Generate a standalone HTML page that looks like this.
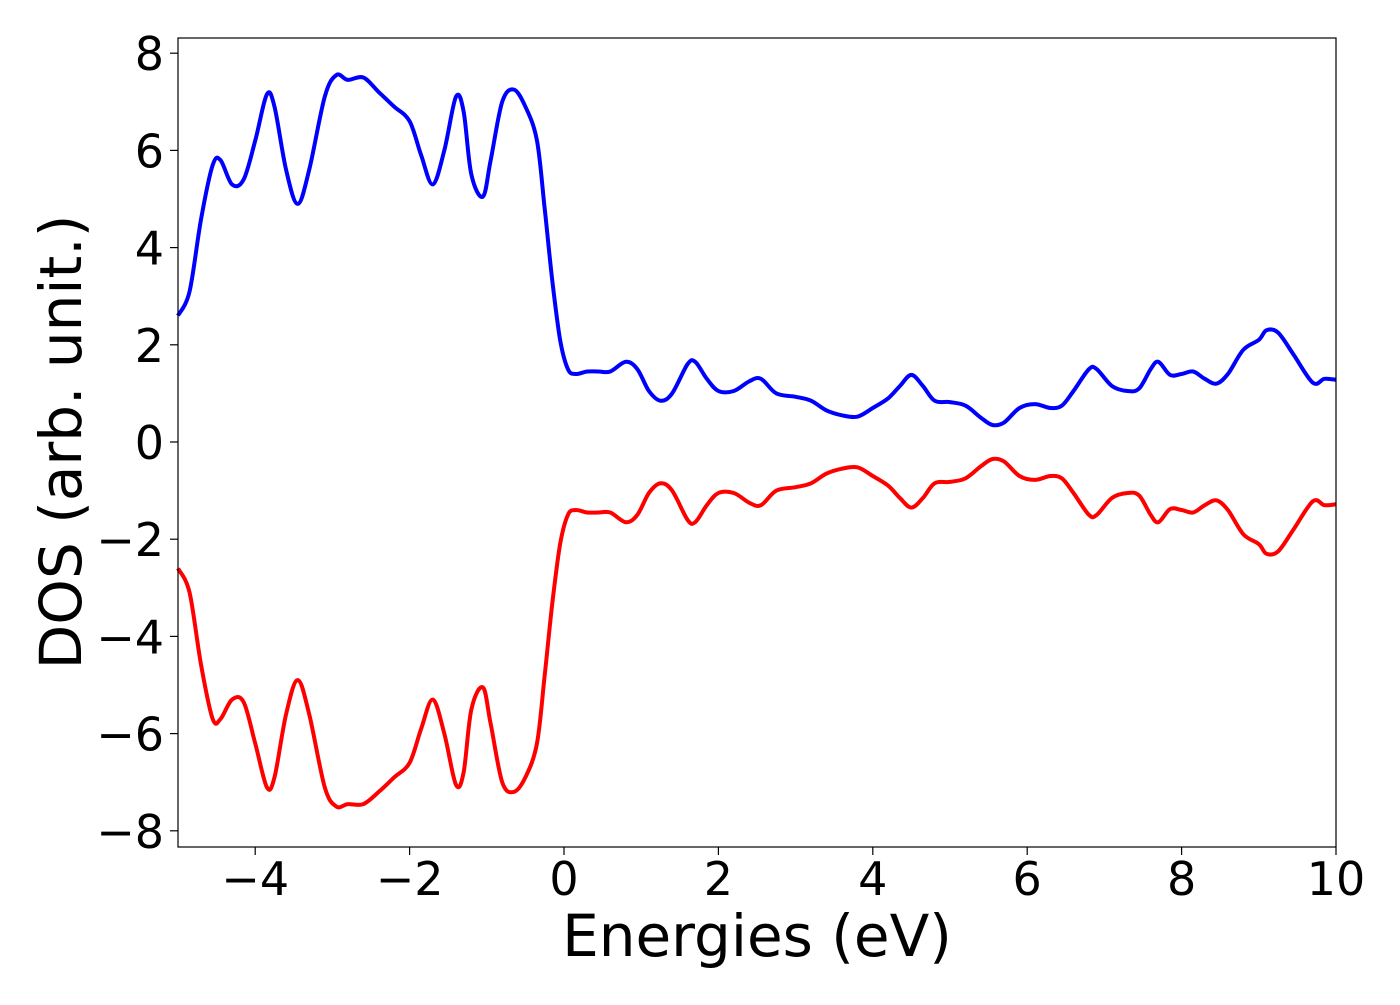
<!DOCTYPE html>
<html><head><meta charset="utf-8"><style>
body{margin:0;background:#fff;}
svg text{font-family:"DejaVu Sans","Liberation Sans",sans-serif;fill:#000;}
</style></head><body>
<svg id="chart" width="1400" height="1000" viewBox="0 0 1400 1000">
<rect x="0" y="0" width="1400" height="1000" fill="#fff"/>
<g id="series"></g>
<rect x="178" y="38" width="1158" height="809" fill="none" stroke="#000" stroke-width="1.2"/>
<g id="xticks"></g><g id="yticks"></g>
<text x="757" y="956" font-size="58" text-anchor="middle">Energies (eV)</text>
<text transform="translate(81,442) rotate(-90)" font-size="58" text-anchor="middle">DOS (arb. unit.)</text>
</svg>
<script>
const energies=[-5,-4.85,-4.7,-4.55,-4.45,-4.3,-4.15,-4.0,-3.85,-3.75,-3.6,-3.45,-3.3,-3.1,-2.95,-2.8,-2.6,-2.4,-2.2,-2.0,-1.85,-1.7,-1.55,-1.4,-1.3,-1.2,-1.05,-0.95,-0.8,-0.65,-0.5,-0.35,-0.25,-0.15,-0.05,0.05,0.15,0.3,0.45,0.6,0.8,0.95,1.1,1.25,1.4,1.6,1.7,1.85,2.0,2.2,2.4,2.55,2.75,3.0,3.2,3.4,3.6,3.8,4.0,4.2,4.35,4.5,4.65,4.8,5.0,5.2,5.4,5.55,5.7,5.9,6.1,6.3,6.45,6.6,6.8,6.9,7.1,7.3,7.45,7.6,7.7,7.85,8.0,8.15,8.3,8.45,8.6,8.8,9.0,9.1,9.25,9.45,9.7,9.85,10];
const dosUp=[2.6,3.1,4.6,5.7,5.8,5.3,5.4,6.2,7.15,6.9,5.6,4.9,5.6,7.1,7.55,7.45,7.5,7.2,6.9,6.6,5.9,5.3,6.0,7.1,6.8,5.5,5.05,5.8,7.0,7.25,6.9,6.2,4.8,3.3,2.1,1.5,1.4,1.45,1.45,1.45,1.65,1.5,1.05,0.85,1.0,1.6,1.65,1.3,1.05,1.05,1.25,1.3,1.0,0.93,0.85,0.65,0.55,0.52,0.7,0.9,1.15,1.38,1.15,0.85,0.82,0.75,0.5,0.35,0.4,0.7,0.78,0.7,0.75,1.05,1.5,1.5,1.15,1.05,1.1,1.5,1.65,1.38,1.4,1.45,1.3,1.2,1.4,1.9,2.1,2.3,2.25,1.8,1.22,1.3,1.28];
const dosDown=[-2.6,-3.1,-4.6,-5.7,-5.7,-5.3,-5.35,-6.2,-7.1,-6.9,-5.6,-4.9,-5.6,-7.1,-7.5,-7.45,-7.45,-7.2,-6.9,-6.6,-5.9,-5.3,-6.0,-7.05,-6.8,-5.5,-5.05,-5.8,-7.0,-7.2,-6.9,-6.2,-4.8,-3.3,-2.1,-1.5,-1.4,-1.45,-1.45,-1.45,-1.65,-1.5,-1.05,-0.85,-1.0,-1.6,-1.65,-1.3,-1.05,-1.05,-1.25,-1.3,-1.0,-0.93,-0.85,-0.65,-0.55,-0.52,-0.7,-0.9,-1.15,-1.35,-1.15,-0.85,-0.82,-0.75,-0.5,-0.35,-0.4,-0.7,-0.78,-0.7,-0.75,-1.05,-1.5,-1.5,-1.15,-1.05,-1.1,-1.5,-1.65,-1.38,-1.4,-1.45,-1.3,-1.2,-1.4,-1.9,-2.1,-2.3,-2.25,-1.8,-1.22,-1.3,-1.28];
const xTicks=[-4,-2,0,2,4,6,8,10];
const yTicks=[-8,-6,-4,-2,0,2,4,6,8];
const X0=178,X1=1336,xMin=-5,xMax=10;
const yZero=442,yPer=48.6;
function sx(v){return X0+(v-xMin)/(xMax-xMin)*(X1-X0);}
function sy(v){return yZero-v*yPer;}
const NS="http://www.w3.org/2000/svg";
function fmt(v){return v<0?"\u2212"+Math.abs(v):String(v);}
function smoothPath(xs,ys){
  const p=xs.map((x,i)=>[sx(x),sy(ys[i])]);
  let d="M"+p[0][0].toFixed(1)+","+p[0][1].toFixed(1);
  for(let i=0;i<p.length-1;i++){
    const p0=p[Math.max(i-1,0)],p1=p[i],p2=p[i+1],p3=p[Math.min(i+2,p.length-1)];
    const c1=[p1[0]+(p2[0]-p0[0])/6,p1[1]+(p2[1]-p0[1])/6];
    const c2=[p2[0]-(p3[0]-p1[0])/6,p2[1]-(p3[1]-p1[1])/6];
    d+="C"+c1[0].toFixed(1)+","+c1[1].toFixed(1)+" "+c2[0].toFixed(1)+","+c2[1].toFixed(1)+" "+p2[0].toFixed(1)+","+p2[1].toFixed(1);
  }
  return d;
}
const g=document.getElementById("series");
[[dosUp,"#0000ff","spin-up-line"],[dosDown,"#ff0000","spin-down-line"]].forEach(s=>{
  const path=document.createElementNS(NS,"path");
  path.setAttribute("d",smoothPath(energies,s[0]));
  path.setAttribute("fill","none");path.setAttribute("stroke",s[1]);path.setAttribute("stroke-width","4");
  
  
  g.appendChild(path);
});
const xg=document.getElementById("xticks");
xTicks.forEach(v=>{
  const x=sx(v);
  const l=document.createElementNS(NS,"line");
  l.setAttribute("x1",x);l.setAttribute("x2",x);l.setAttribute("y1",847);l.setAttribute("y2",855);l.setAttribute("stroke","#000");l.setAttribute("stroke-width","1.2");
  
  
  xg.appendChild(l);
  const t=document.createElementNS(NS,"text");
  t.setAttribute("x",x);t.setAttribute("y",895);t.setAttribute("font-size","46");t.setAttribute("text-anchor","middle");
  t.textContent=fmt(v);
  
  
  xg.appendChild(t);
});
const yg=document.getElementById("yticks");
yTicks.forEach(v=>{
  const y=sy(v);
  const l=document.createElementNS(NS,"line");
  l.setAttribute("x1",170);l.setAttribute("x2",178);l.setAttribute("y1",y);l.setAttribute("y2",y);l.setAttribute("stroke","#000");l.setAttribute("stroke-width","1.2");
  
  
  yg.appendChild(l);
  const t=document.createElementNS(NS,"text");
  t.setAttribute("x",164);t.setAttribute("y",y+17);t.setAttribute("font-size","46");t.setAttribute("text-anchor","end");
  t.textContent=fmt(v);
  
  
  yg.appendChild(t);
});
</script>
</body></html>
